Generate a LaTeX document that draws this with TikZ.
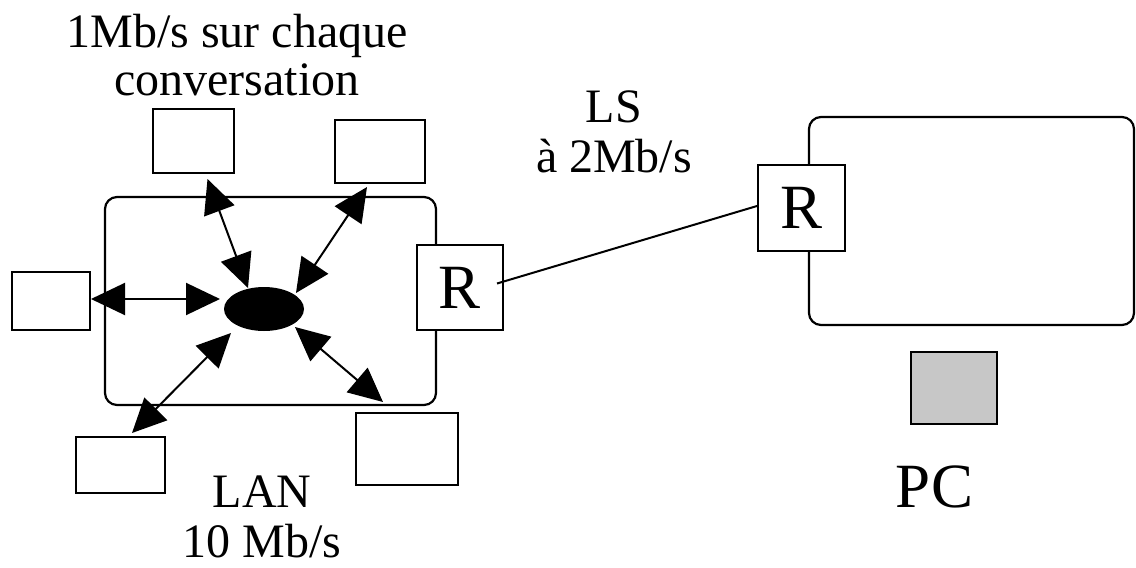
\documentclass[tikz,border=0pt]{standalone}
\usepackage{fontspec}
\setmainfont{Liberation Serif}
\usetikzlibrary{arrows.meta, shapes.geometric}

\begin{document}
\begin{tikzpicture}[
    x=1pt, y=-1pt,
    net/.style={rectangle, draw, line width=2.2pt, rounded corners=12pt, inner sep=0pt},
    box/.style={rectangle, draw, line width=2pt, fill=white, inner sep=0pt},
    router/.style={box, font=\fontsize{63}{63}\selectfont},
    lbl/.style={font=\fontsize{48}{50}\selectfont, align=center, inner sep=0pt},
    link/.style={{Triangle[length=34pt 0, width=32pt 0]}-{Triangle[length=34pt 0, width=32pt 0]}, line width=2pt}
]
    \useasboundingbox (0,0) rectangle (1136,568);

    % networks
    \node[net, minimum width=331pt, minimum height=208pt] (lan) at (270.5,301) {};
    \node[net, minimum width=325pt, minimum height=208pt] (wan) at (971.5,221) {};

    % routers sit on the network borders
    \node[router, minimum width=86pt, minimum height=85pt] (rl) at (460,287.5) {R};
    \node[router, minimum width=87pt, minimum height=86pt] (rr) at (801.5,208) {R};

    % stations round the LAN
    \node[box, minimum width=81pt, minimum height=64pt] (st1) at (193.5,141) {};
    \node[box, minimum width=90pt, minimum height=63pt] (st2) at (380,151.5) {};
    \node[box, minimum width=78pt, minimum height=58pt] (st3) at (51,301) {};
    \node[box, minimum width=89pt, minimum height=56pt] (st4) at (120.5,465) {};
    \node[box, minimum width=102pt, minimum height=72pt] (st5) at (407,449) {};
    \node[box, fill=black!22, minimum width=86pt, minimum height=72pt] (pc) at (954,388) {};

    \node[ellipse, fill=black, minimum width=80pt, minimum height=44pt, inner sep=0pt] (hub) at (264,309) {};

    % conversations
    \draw[link] ([xshift=14pt, yshift=-5pt]st1.south) -- ([xshift=-16pt, yshift=21pt]hub.center);
    \draw[link] ([xshift=-13pt, yshift=-3pt]st2.south) -- ([xshift=32pt, yshift=16pt]hub.center);
    \draw[link] ([yshift=2pt]st3.east) -- ([xshift=-44pt, yshift=10pt]hub.center);
    \draw[link] ([xshift=11.5pt, yshift=3pt]st4.north) -- ([xshift=-33pt, yshift=-24pt]hub.center);
    \draw[link] ([xshift=-24pt, yshift=10pt]st5.north) -- ([xshift=31pt, yshift=-18pt]hub.center);

    % leased line
    \draw[line width=2pt] ([xshift=-7pt, yshift=4pt]rl.east) -- ([yshift=2pt]rr.west);

    % labels (base = last line)
    \node[lbl, font=\fontsize{48}{48}\selectfont, anchor=base] (rate) at (237,95) {1Mb/s sur chaque\\conversation};
    \node[lbl, anchor=base] (ls) at (614,172) {LS\\à 2Mb/s};
    \node[lbl, anchor=base] (lanlbl) at (262,557) {LAN\\10 Mb/s};
    \node[lbl, font=\fontsize{63}{63}\selectfont, anchor=base] (pclbl) at (934.5,507) {PC};
\end{tikzpicture}
\end{document}
